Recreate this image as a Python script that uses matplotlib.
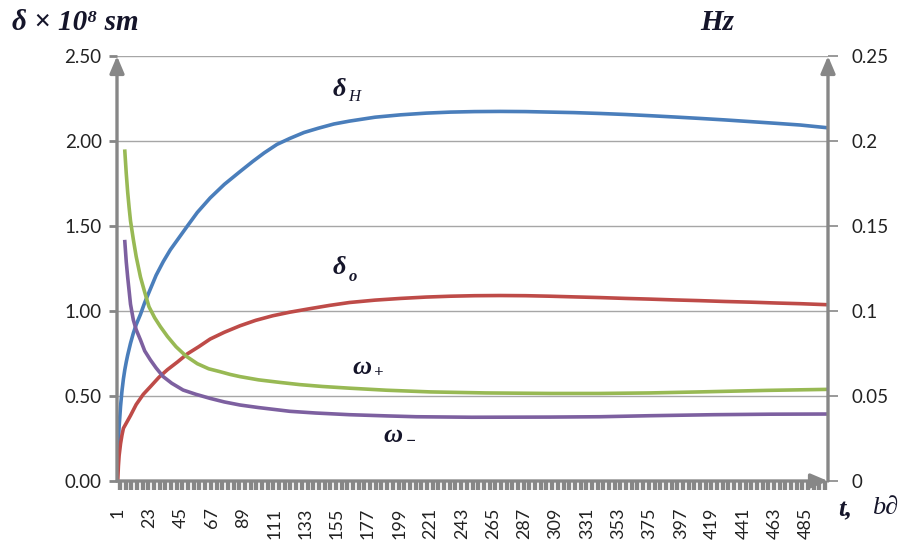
import numpy as np
import matplotlib
matplotlib.use("Agg")
import matplotlib.pyplot as plt

# time steps (categories) and values read for each curve
t_dH = [1, 2, 3, 4, 5, 6, 7, 8, 10, 12, 14, 17, 20, 24, 28, 33, 38, 44, 50, 57, 66, 76, 87, 96, 104, 113, 122,
        132, 142, 153, 164, 182, 200, 218, 235, 252, 270, 288, 305, 322, 340, 358, 375, 393, 410, 428, 446, 464,
        481, 500]
dH = [0.15, 0.32, 0.44, 0.53, 0.60, 0.655, 0.70, 0.74, 0.81, 0.87, 0.92, 0.98, 1.05, 1.13, 1.21, 1.29, 1.36, 1.43,
      1.50, 1.58, 1.665, 1.745, 1.82, 1.88, 1.93, 1.98, 2.015, 2.05, 2.075, 2.10, 2.117, 2.14, 2.154, 2.164, 2.17,
      2.173, 2.174, 2.173, 2.17, 2.167, 2.162, 2.156, 2.149, 2.141, 2.133, 2.124, 2.114, 2.104, 2.094, 2.078]

t_do = [1, 1.5, 2, 3, 4, 5, 7, 10, 14, 19, 24, 30, 36, 43, 50, 58, 66, 76, 87, 98, 110, 122, 135, 150, 164, 182,
        200, 218, 235, 252, 270, 288, 305, 322, 340, 358, 375, 393, 410, 428, 446, 464, 481, 500]
do = [0.0, 0.09, 0.15, 0.22, 0.27, 0.31, 0.34, 0.385, 0.45, 0.51, 0.555, 0.61, 0.655, 0.70, 0.748, 0.79, 0.835,
      0.875, 0.913, 0.945, 0.972, 0.993, 1.012, 1.033, 1.05, 1.064, 1.074, 1.082, 1.087, 1.09, 1.091, 1.09, 1.087,
      1.083, 1.079, 1.074, 1.07, 1.065, 1.061, 1.056, 1.052, 1.047, 1.043, 1.037]

t_wp = [6, 7, 8, 9, 10, 12, 14, 17, 20, 23, 27, 31, 36, 42, 49, 57, 65, 73, 80, 87, 100, 115, 129, 145, 164, 190,
        221, 260, 305, 340, 375, 410, 457, 500]
wp = [0.194, 0.181, 0.170, 0.161, 0.153, 0.142, 0.132, 0.120, 0.111, 0.1025, 0.096, 0.0908, 0.085, 0.079, 0.0735,
      0.069, 0.066, 0.0643, 0.0627, 0.0614, 0.0595, 0.058, 0.0567, 0.0556, 0.0546, 0.0534, 0.0524, 0.0518, 0.0515,
      0.0515, 0.0518, 0.0524, 0.0533, 0.0539]

t_wm = [6, 7, 8, 9, 10, 12, 14, 17, 20, 24, 28, 33, 39, 47, 56, 66, 76, 87, 100, 112, 122, 140, 164, 190, 211,
        250, 305, 340, 375, 420, 460, 500]
wm = [0.1408, 0.129, 0.120, 0.112, 0.104, 0.0947, 0.089, 0.083, 0.0765, 0.0712, 0.0665, 0.0614, 0.0575, 0.0535,
      0.051, 0.0486, 0.0465, 0.0447, 0.0432, 0.042, 0.041, 0.040, 0.039, 0.0383, 0.0378, 0.0375, 0.0376, 0.0378,
      0.0384, 0.039, 0.0393, 0.0394]

left_ticks = [0.0, 0.5, 1.0, 1.5, 2.0, 2.5]
right_ticks = [0, 0.05, 0.1, 0.15, 0.2, 0.25]
right_labels = ["0", "0.05", "0.1", "0.15", "0.2", "0.25"]
x_labels = list(range(1, 501, 22))

W, H = 914, 548
gray = "#878787"
tick_font = "Lato"


def px(x, y):
    return x / W, 1 - y / H


fig = plt.figure(figsize=(W / 100, H / 100), dpi=100)
ax = fig.add_axes([117 / W, 1 - 481 / H, 711 / W, 425 / H])
ax2 = ax.twinx()

ax.plot(t_dH, dH, color="#4A7EBB", lw=2.6)
ax.plot(t_do, do, color="#BE4B48", lw=2.6)
ax2.plot(t_wp, wp, color="#98B954", lw=2.6)
ax2.plot(t_wm, wm, color="#7D60A0", lw=2.6)

ax.set_xlim(0.5, 500.5)
ax.set_ylim(0, 2.5)
ax2.set_ylim(0, 0.25)

ax.set_yticks(left_ticks)
ax.set_yticklabels([f"{v:.2f}" for v in left_ticks], family=tick_font, fontsize=13.5, color="#222222")
ax2.set_yticks(right_ticks)
ax2.set_yticklabels(right_labels, family=tick_font, fontsize=13.5, color="#222222")
ax.tick_params(axis="y", length=6, width=2, color=gray, pad=5)
ax2.tick_params(axis="y", length=7, width=1.2, color=gray, pad=10)

ax.set_xticks(x_labels)
ax.set_xticklabels([str(v) for v in x_labels], rotation=90, family=tick_font, fontsize=13, color="#222222")
ax.set_xticks(np.arange(2.5, 500, 4), minor=True)
ax.tick_params(axis="x", which="major", length=0, pad=19)
ax.tick_params(axis="x", which="minor", length=6.5, width=3.1, color=gray)

ax.grid(axis="y", color="#A6A6A6", lw=1)
ax.set_axisbelow(True)
for a in (ax, ax2):
    for s in a.spines.values():
        s.set_visible(False)

# axis lines with arrow heads
arrow = dict(arrowstyle="-|>,head_length=0.85,head_width=0.36", color=gray, lw=2.4,
             shrinkA=0, shrinkB=0, mutation_scale=12)
for start, end in [((0, 0), (0, 1)), ((1, 0), (1, 1)), ((0, 0), (1, 0))]:
    ax2.annotate("", xy=end, xytext=start, xycoords="axes fraction", arrowprops=arrow,
                 annotation_clip=False)

# axis titles
serif = ["Liberation Serif", "DejaVu Serif"]
ink = "#15152a"
fig.text(*px(12, 22), "δ × 10⁸ sm", family=serif, fontsize=21, weight="bold", style="italic",
         color=ink, va="center", ha="left")
fig.text(*px(700, 22), "Hz", family=serif, fontsize=21, weight="bold", style="italic",
         color=ink, va="center", ha="left")
fig.text(*px(838, 510), "t,", family=serif, fontsize=19, weight="bold", style="italic",
         color=ink, va="center", ha="left")
fig.text(*px(872, 508), "b∂", family=serif, fontsize=19, style="italic",
         color=ink, va="center", ha="left")


# curve names
def curve_name(x, y, sym, sub, dx, dy, sub_bold=False):
    fig.text(*px(x, y), sym, family=serif, fontsize=19, weight="bold", style="italic",
             color=ink, va="center", ha="left")
    fig.text(*px(x + dx, y + dy), sub, family=serif, fontsize=12,
             weight="bold" if sub_bold else "normal", style="italic",
             color=ink, va="center", ha="left")


curve_name(333, 90, "δ", "H", 15, 7)
curve_name(333, 268, "δ", "o", 16, 9, sub_bold=True)
curve_name(352, 367, "ω", "+", 22, 6, sub_bold=True)
curve_name(383, 435, "ω", "−", 23, 7, sub_bold=True)

fig.savefig("out.png", dpi=100)
